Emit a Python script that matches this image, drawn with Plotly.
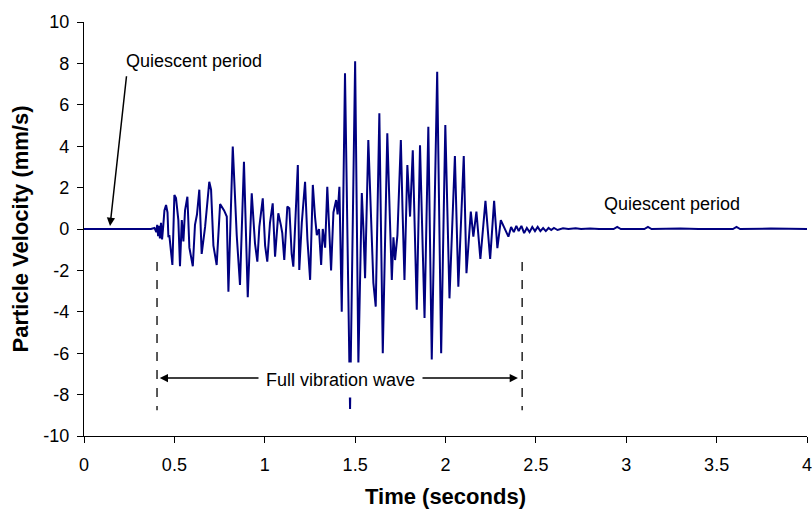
import plotly.graph_objects as go

# Particle velocity record
time_s = [
    0.0, 0.37, 0.39, 0.40, 0.405, 0.41, 0.415, 0.42, 0.426, 0.432, 0.438, 0.445,
    0.454, 0.462, 0.467, 0.472, 0.489, 0.500, 0.509, 0.522, 0.531, 0.541, 0.550,
    0.559, 0.572, 0.583, 0.602, 0.614, 0.625, 0.638, 0.651, 0.670, 0.693, 0.703,
    0.716, 0.734, 0.753, 0.775, 0.790, 0.799, 0.823, 0.845, 0.863, 0.885, 0.906,
    0.928, 0.946, 0.959, 0.970, 0.989, 1.002, 1.014, 1.029, 1.044, 1.057, 1.075,
    1.089, 1.097, 1.108, 1.125, 1.136, 1.149, 1.158, 1.183, 1.191, 1.205, 1.223,
    1.236, 1.251, 1.266, 1.278, 1.288, 1.300, 1.312, 1.321, 1.334, 1.346, 1.357,
    1.367, 1.380, 1.395, 1.403, 1.413, 1.426, 1.444, 1.472, 1.500, 1.518, 1.537,
    1.546, 1.555, 1.573, 1.588, 1.601, 1.614, 1.634, 1.653, 1.678, 1.693, 1.703,
    1.712, 1.721, 1.734, 1.753, 1.762, 1.773, 1.789, 1.804, 1.819, 1.841, 1.859,
    1.884, 1.905, 1.924, 1.954, 1.976, 1.999, 2.022, 2.052, 2.071, 2.101, 2.116,
    2.140, 2.154, 2.171, 2.193, 2.221, 2.247, 2.269, 2.287, 2.306, 2.324, 2.348,
    2.363, 2.378, 2.392, 2.405, 2.420, 2.435, 2.450, 2.465, 2.480, 2.495, 2.510,
    2.525, 2.540, 2.555, 2.570, 2.585, 2.600, 2.620, 2.650, 2.680, 2.720, 2.750,
    2.800, 2.850, 2.930, 2.950, 2.970, 3.100, 3.120, 3.140, 3.300, 3.400, 3.590,
    3.610, 3.630, 3.800, 4.0,
]
velocity = [
    0.0, 0.0, 0.05, -0.15, 0.2, -0.35, 0.15, -0.45, 0.3, -0.5, 0.1, 0.9,
    1.16, 0.8, -0.4, -0.3, -1.74, 1.64, 1.5, 0.43, -1.8, 0.43, -0.6,
    0.9, 1.56, -0.9, -1.8, 0.2, 0.7, 1.9, -1.2, 0.1, 2.28, 1.9,
    -0.8, -1.74, 1.2, 0.9, 0.6, -3.03, 3.98, -0.3, -2.7, 3.25, -3.3,
    1.72, -0.69, -1.58, 0.1, 1.48, -0.8, -1.58, 0.3, 1.24, -1.34, 0.76,
    0.2, -0.2, -1.5, 1.08, 1.0, -1.2, -1.82, 3.09, -1.98, 0.3, 2.28,
    -0.5, -2.46, 2.13, 0.6, -0.3, 0.0, -1.74, 0.0, -0.9, 2.04, 0.0,
    -2.0, 0.8, 1.4, 0.7, 2.04, -4.0, 7.52, -8.7, 8.1, -6.5, 1.74,
    0.0, -2.38, 4.3, 0.5, -2.6, -3.75, 5.59, -6.0, 4.62, 0.3, -2.46,
    -0.4, -1.5, -0.3, 4.3, 1.0, -2.46, 3.09, 0.6, 3.8, -3.9, 4.05,
    -4.3, 4.94, -6.3, 7.6, -6.0, 5.02, -3.35, 3.53, -2.79, 3.53, -2.14,
    0.84, -0.37, 0.84, -1.45, 1.36, -1.45, 1.36, -0.93, 0.43, 0.1, -0.37,
    0.1, -0.15, 0.15, -0.1, 0.15, -0.2, 0.05, -0.15, 0.1, -0.1, 0.1,
    -0.1, 0.05, -0.1, 0.05, -0.05, 0.05, -0.05, 0.03, 0.0, 0.04, 0.0,
    0.03, 0.0, 0.0, 0.1, 0.0, 0.0, 0.1, 0.0, 0.03, 0.0, 0.0,
    0.1, 0.0, 0.02, 0.0,
]

y_ticks = [-10, -8, -6, -4, -2, 0, 2, 4, 6, 8, 10]
y_tick_text = ['-10', '-8', '-6', '-4', '-2', '0', '2', '4', '6', '8', '10']

# wave start / end markers
wave_start = 0.404
wave_end = 2.424

font = 'Liberation Sans, Arial, sans-serif'

fig = go.Figure()
fig.add_trace(go.Scatter(x=time_s, y=velocity, mode='lines',
                         line=dict(color='#000080', width=2),
                         showlegend=False))

# dashed bounds of the vibration wave
for xv in (wave_start, wave_end):
    fig.add_shape(type='line', x0=xv, x1=xv, y0=-1.6, y1=-8.75,
                  line=dict(color='black', width=1.3, dash='dash'))

# double arrow
fig.add_annotation(x=wave_start + 0.015, y=-7.2, ax=wave_end - 0.015, ay=-7.2,
                   xref='x', yref='y', axref='x', ayref='y', text='',
                   showarrow=True, arrowhead=2, arrowside='end+start',
                   arrowsize=1.1, arrowwidth=1.5, arrowcolor='black')
fig.add_annotation(x=1.417, y=-7.3, text='Full vibration wave', showarrow=False,
                   bgcolor='white', borderpad=7,
                   font=dict(family=font, size=18, color='black'))

# quiescent labels
fig.add_annotation(x=0.609, y=8.1, text='Quiescent period', showarrow=False,
                   font=dict(family=font, size=18, color='black'))
fig.add_annotation(x=0.144, y=0.15, ax=0.236, ay=7.45,
                   xref='x', yref='y', axref='x', ayref='y', text='',
                   showarrow=True, arrowhead=2, arrowsize=1.1,
                   arrowwidth=1.5, arrowcolor='black')
fig.add_annotation(x=3.254, y=1.2, text='Quiescent period', showarrow=False,
                   font=dict(family=font, size=18, color='black'))

fig.update_layout(
    width=812, height=509,
    margin=dict(l=84, r=5, t=22, b=73),
    plot_bgcolor='white', paper_bgcolor='white',
    font=dict(family=font, size=18, color='black'),
)
fig.update_xaxes(range=[0, 4], dtick=0.5, tick0=0, showline=True, linecolor='black',
                 linewidth=1.3, ticks='outside', ticklen=6, tickcolor='black',
                 showgrid=False, zeroline=False, automargin=False,
                 ticklabelstandoff=6, ticklabeloverflow='allow',
                 title=dict(text='<b>Time (seconds)</b>', standoff=17,
                            font=dict(family=font, size=22)))
fig.update_yaxes(range=[-10, 10], tickvals=y_ticks, ticktext=y_tick_text,
                 showline=True, linecolor='black', linewidth=1.3,
                 ticks='outside', ticklen=6, tickcolor='black',
                 showgrid=False, zeroline=False, automargin=False,
                 ticklabelstandoff=4,
                 title=dict(text='<b>Particle Velocity (mm/s)</b>', standoff=8,
                            font=dict(family=font, size=22)))

# drop the page's default body margin so the figure sits at the window corner
fig.write_html('out.html', config={'displayModeBar': False},
               post_script="document.body.style.margin='0';document.body.style.overflow='hidden';")
